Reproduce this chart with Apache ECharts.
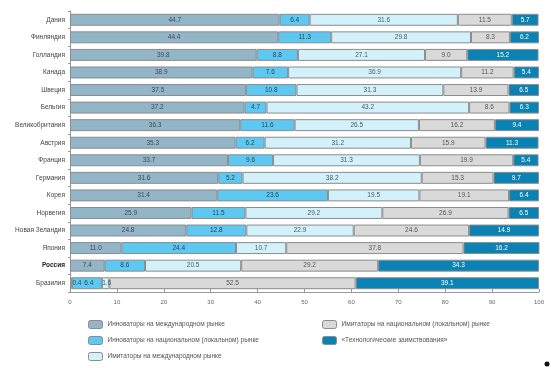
<!DOCTYPE html>
<html><head><meta charset="utf-8">
<script src="https://cdn.jsdelivr.net/npm/echarts@6/dist/echarts.min.js"></script>
<style>html,body{margin:0;padding:0;background:#fff}#c{width:551px;height:368px}</style>
</head><body><div id="c"></div>
<script>
const categories = ['Дания','Финляндия','Голландия','Канада','Швеция','Бельгия','Великобритания','Австрия','Франция','Германия','Корея','Норвегия','Новая Зеландия','Япония','Россия','Бразилия'];
const seriesNames = ['Инноваторы на международном рынке','Инноваторы на национальном (локальном) рынке','Имитаторы на международном рынке','Имитаторы на национальном (локальном) рынке','«Технологические заимствования»'];
const innovIntl = [44.7,44.4,39.8,38.9,37.5,37.2,36.3,35.3,33.7,31.6,31.4,25.9,24.8,11.0,7.4,0.4];
const innovNat  = [6.4,11.3,8.8,7.6,10.8,4.7,11.6,6.2,9.6,5.2,23.6,11.5,12.8,24.4,8.6,6.4];
const imitIntl  = [31.6,29.8,27.1,36.9,31.3,43.2,26.5,31.2,31.3,38.2,19.5,29.2,22.9,10.7,20.5,1.6];
const imitNat   = [11.5,8.3,9.0,11.2,13.9,8.6,16.2,15.9,19.9,15.3,19.1,26.9,24.6,37.8,29.2,52.5];
const techBorrow= [5.7,6.2,15.2,5.4,6.5,6.3,9.4,11.3,5.4,9.7,6.4,6.5,14.9,16.2,34.3,39.1];
const xTicks = [0,10,20,30,40,50,60,70,80,90,100];

const colors = ['#93b5c8','#5dc8f1','#d3f1fb','#d9d9d9','#0a82b3'];
const labelColors = ['#3d4a52','#2f4550','#4a5a60','#555','#ffffff'];
const allData = [innovIntl, innovNat, imitIntl, imitNat, techBorrow];
// small label nudges for the narrow segments of the last category (Бразилия)
const lastNudge = [[6,0],[2,0],[1,0],[0,0],[0,0]];

const chart = echarts.init(document.getElementById('c'), null, {renderer:'canvas'});
const series = allData.map((d,i)=>({
  name: seriesNames[i], type:'bar', stack:'total', barCategoryGap:'32%',
  data: d.slice().reverse().map((v,j)=> j===0 ? {value:v, label:{offset:lastNudge[i]}} : v),
  itemStyle:{color:colors[i], borderColor:'#8c8c8c', borderWidth:1},
  label:{show:true, position:'inside', fontSize:6.5, color:labelColors[i], fontFamily:'Liberation Sans',
    formatter:p=>p.value.toFixed(1)},
  emphasis:{disabled:true}
}));

const legendCommon = {orient:'vertical', itemWidth:14, itemHeight:8, itemGap:7, padding:0, height:60,
  textStyle:{fontSize:6.5, color:'#555', fontFamily:'Liberation Sans'},
  itemStyle:{borderColor:'#8c8c8c', borderWidth:1}, selectedMode:false};

chart.setOption({
  animation:false,
  grid:{left:70, right:12, top:11, bottom:76},
  xAxis:{type:'value', min:0, max:100, interval:10,
    axisLine:{show:true, lineStyle:{color:'#999'}},
    axisTick:{show:true, inside:true, length:3, lineStyle:{color:'#999'}},
    splitLine:{show:false},
    axisLabel:{fontSize:6, color:'#666', margin:7, fontFamily:'Liberation Sans',
      formatter:v=> xTicks.indexOf(v)>=0 ? String(v) : ''}},
  yAxis:{type:'category', data:categories.slice().reverse(),
    axisLine:{show:true, lineStyle:{color:'#999'}},
    axisTick:{show:true, length:2, lineStyle:{color:'#999'}},
    axisLabel:{fontSize:6.5, color:'#444', margin:5, fontFamily:'Liberation Sans',
      formatter:v=> v==='Россия' ? '{b|'+v+'}' : v,
      rich:{b:{fontWeight:'bold', fontSize:6.5, color:'#222', fontFamily:'Liberation Sans'}}}},
  legend:[
    Object.assign({left:88, top:320, data:seriesNames.slice(0,3)}, legendCommon),
    Object.assign({left:322, top:320, data:seriesNames.slice(3,5)}, legendCommon)
  ],
  graphic:[{type:'circle', shape:{cx:547, cy:364, r:2.5}, style:{fill:'#111'}}],
  series
});
</script></body></html>
